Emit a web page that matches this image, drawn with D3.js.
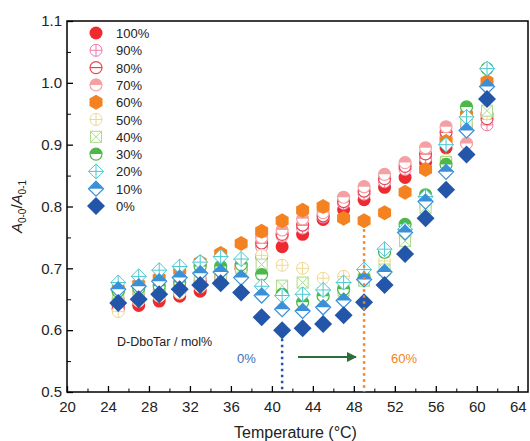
<!DOCTYPE html>
<html lang="en">
<head>
<meta charset="UTF-8">
<title>A0-0/A0-1 vs temperature</title>
<script src="https://cdn.jsdelivr.net/npm/d3@7"></script>
<style>
    body { margin: 0; background: white; }
    svg { font-family: "Liberation Sans", Arial, sans-serif; }
    .axis path, .axis line { stroke: black; }
    .axis text { font-size: 15px; fill: #222; }
</style>
</head>
<body>
<svg id="chart" width="530" height="441"></svg>
<script>
// temperatures (°C)
var temps = [25, 27, 29, 31, 33, 35, 37, 39, 41, 43, 45, 47, 49, 51, 53, 55, 57, 59, 61];

// A0-0/A0-1 per D-DboTar fraction
var s100 = [0.634, 0.640, 0.647, 0.655, 0.663, 0.680, 0.700, 0.719, 0.735, 0.755, 0.779, 0.795, 0.811, 0.831, 0.847, 0.871, 0.895, 0.948, 0.948];
var s90  = [0.635, 0.648, 0.655, 0.660, 0.676, 0.688, 0.697, 0.735, 0.752, 0.765, 0.783, 0.805, 0.820, 0.840, 0.860, 0.878, 0.912, 0.930, 0.932];
var s80  = [0.640, 0.650, 0.658, 0.663, 0.680, 0.690, 0.700, 0.741, 0.755, 0.770, 0.785, 0.808, 0.825, 0.845, 0.865, 0.885, 0.920, 0.945, 0.942];
var s70  = [0.650, 0.660, 0.665, 0.670, 0.685, 0.697, 0.705, 0.750, 0.762, 0.780, 0.790, 0.815, 0.832, 0.852, 0.871, 0.895, 0.929, 0.902, 0.950];
var s60  = [0.666, 0.674, 0.684, 0.697, 0.710, 0.724, 0.740, 0.760, 0.777, 0.794, 0.800, 0.781, 0.777, 0.790, 0.823, 0.860, 0.905, 0.948, 1.002];
var s50  = [0.630, 0.647, 0.655, 0.660, 0.670, 0.690, 0.700, 0.721, 0.705, 0.700, 0.684, 0.687, 0.690, 0.712, 0.752, 0.800, 0.875, 0.935, 0.950];
var s40  = [0.660, 0.667, 0.673, 0.680, 0.685, 0.690, 0.700, 0.706, 0.672, 0.677, 0.660, 0.664, 0.680, 0.698, 0.744, 0.798, 0.872, 0.932, 0.955];
var s30  = [0.663, 0.668, 0.671, 0.677, 0.703, 0.703, 0.706, 0.690, 0.658, 0.645, 0.655, 0.666, 0.685, 0.726, 0.771, 0.819, 0.868, 0.961, 1.023];
var s20  = [0.677, 0.687, 0.697, 0.703, 0.710, 0.719, 0.715, 0.671, 0.656, 0.658, 0.665, 0.677, 0.698, 0.731, 0.763, 0.816, 0.900, 0.945, 1.023];
var s10  = [0.666, 0.671, 0.679, 0.685, 0.692, 0.694, 0.685, 0.656, 0.634, 0.631, 0.637, 0.648, 0.682, 0.694, 0.758, 0.808, 0.856, 0.923, 0.994];
var s0   = [0.644, 0.650, 0.658, 0.666, 0.673, 0.676, 0.661, 0.621, 0.600, 0.603, 0.610, 0.624, 0.645, 0.673, 0.723, 0.781, 0.827, 0.884, 0.974];

var labels = ["100%", "90%", "80%", "70%", "60%", "50%", "40%", "30%", "20%", "10%", "0%"];
var values = [s100, s90, s80, s70, s60, s50, s40, s30, s20, s10, s0];
var colors = ["#ee2a2f", "#f07aa8", "#e8474f", "#f4a0a4", "#f58220", "#f0d890",
              "#a8dc88", "#4cb848", "#4cc8d0", "#3a90d8", "#2356a8"];
var shapes = ["dot", "circleCross", "circleLine", "circleHalf", "hexagon", "circleCross",
              "squareX", "circleHalf", "diamondCross", "diamondHalf", "diamond"];

var xTicks = [20, 24, 28, 32, 36, 40, 44, 48, 52, 56, 60, 64];
var yTicks = [0.5, 0.6, 0.7, 0.8, 0.9, 1.0, 1.1];

var svg = d3.select("#chart");
var plotL = 67, plotR = 528, plotT = 21, plotB = 392;

var x = d3.scaleLinear().domain([20, 65]).range([plotL, plotR]);
var y = d3.scaleLinear().domain([0.5, 1.1]).range([plotB, plotT]);

// frame
svg.append("rect")
    .attr("x", plotL).attr("y", plotT)
    .attr("width", plotR - plotL).attr("height", plotB - plotT)
    .attr("fill", "none").attr("stroke", "black").attr("stroke-width", 1.5);

// axes, ticks pointing inward
var xMinor = d3.range(22, 65, 4);
svg.append("g").attr("class", "axis")
    .attr("transform", "translate(0," + plotB + ")")
    .call(d3.axisBottom(x).tickValues(xMinor).tickSize(-3.5).tickFormat(""))
    .call(function(g) { g.select(".domain").remove(); });
svg.append("g").attr("class", "axis")
    .attr("transform", "translate(0," + plotB + ")")
    .call(d3.axisBottom(x).tickValues(xTicks).tickSize(-6).tickPadding(9).tickFormat(d3.format("d")))
    .call(function(g) { g.select(".domain").remove(); g.selectAll("line").attr("stroke-width", 1.3); });

var yMinor = [0.55, 0.65, 0.75, 0.85, 0.95, 1.05];
svg.append("g").attr("class", "axis")
    .attr("transform", "translate(" + plotL + ",0)")
    .call(d3.axisLeft(y).tickValues(yMinor).tickSize(-4).tickFormat(""))
    .call(function(g) { g.select(".domain").remove(); });
svg.append("g").attr("class", "axis")
    .attr("transform", "translate(" + plotL + ",0)")
    .call(d3.axisLeft(y).tickValues(yTicks).tickSize(-6).tickPadding(5).tickFormat(d3.format(".1f")))
    .call(function(g) { g.select(".domain").remove(); g.selectAll("line").attr("stroke-width", 1.3); });

// axis titles
svg.append("text")
    .attr("x", (plotL + plotR) / 2 - 2).attr("y", 438)
    .attr("text-anchor", "middle").attr("font-size", 16).attr("fill", "#222")
    .text("Temperature (°C)");

var yt = svg.append("text")
    .attr("transform", "translate(22," + ((plotT + plotB) / 2) + ") rotate(-90)")
    .attr("text-anchor", "middle").attr("font-size", 15).attr("fill", "#222");
yt.append("tspan").attr("font-style", "italic").text("A");
yt.append("tspan").attr("font-size", 10).attr("dy", 4).text("0-0");
yt.append("tspan").attr("dy", -4).text("/");
yt.append("tspan").attr("font-style", "italic").text("A");
yt.append("tspan").attr("font-size", 10).attr("dy", 4).text("0-1");

// marker drawing
function drawMarker(g, shape, color) {
    var r = 6;
    if (shape === "dot") {
        g.append("circle").attr("r", 6.5).attr("fill", color);
    } else if (shape === "circleCross") {
        g.append("circle").attr("r", r).attr("fill", "white").attr("stroke", color).attr("stroke-width", 1);
        g.append("path").attr("d", "M" + (-r) + ",0H" + r + "M0," + (-r) + "V" + r)
            .attr("stroke", color).attr("stroke-width", 1);
    } else if (shape === "circleLine") {
        g.append("circle").attr("r", r).attr("fill", "white").attr("stroke", color).attr("stroke-width", 1.2);
        g.append("path").attr("d", "M" + (-r) + ",0H" + r).attr("stroke", color).attr("stroke-width", 1.2);
    } else if (shape === "circleHalf") {
        g.append("circle").attr("r", r).attr("fill", "white").attr("stroke", color).attr("stroke-width", 1.2);
        g.append("path").attr("d", "M" + (-r) + ",0A" + r + "," + r + " 0 0,1 " + r + ",0Z").attr("fill", color);
    } else if (shape === "hexagon") {
        var pts = d3.range(6).map(function(i) {
            var a = Math.PI / 6 + i * Math.PI / 3;
            return [7.5 * Math.cos(a), 7.5 * Math.sin(a)];
        });
        g.append("path").attr("d", "M" + pts.join("L") + "Z").attr("fill", color);
    } else if (shape === "squareX") {
        g.append("rect").attr("x", -5.5).attr("y", -5.5).attr("width", 11).attr("height", 11)
            .attr("fill", "white").attr("stroke", color).attr("stroke-width", 1);
        g.append("path").attr("d", "M-5.5,-5.5L5.5,5.5M5.5,-5.5L-5.5,5.5").attr("stroke", color).attr("stroke-width", 1);
    } else if (shape === "diamondCross") {
        g.append("path").attr("d", "M0,-7.5L7.5,0L0,7.5L-7.5,0Z").attr("fill", "white").attr("stroke", color).attr("stroke-width", 1);
        g.append("path").attr("d", "M-7.5,0H7.5M0,-7.5V7.5").attr("stroke", color).attr("stroke-width", 1);
    } else if (shape === "diamondHalf") {
        g.append("path").attr("d", "M0,-7.5L7.5,0L0,7.5L-7.5,0Z").attr("fill", "white").attr("stroke", color).attr("stroke-width", 1.2);
        g.append("path").attr("d", "M-7.5,0L0,-7.5L7.5,0Z").attr("fill", color);
    } else if (shape === "diamond") {
        g.append("path").attr("d", "M0,-9L9,0L0,9L-9,0Z").attr("fill", color);
    }
}

// data points
values.forEach(function(vals, k) {
    var grp = svg.append("g").attr("class", "series");
    grp.selectAll("g")
        .data(vals)
        .enter()
        .append("g")
        .attr("transform", function(d, i) { return "translate(" + x(temps[i]) + "," + y(d) + ")"; })
        .each(function() { drawMarker(d3.select(this), shapes[k], colors[k]); });
});

// legend
var legend = svg.append("g");
labels.forEach(function(lab, k) {
    var row = legend.append("g").attr("transform", "translate(96," + (33 + k * 17.3) + ")");
    drawMarker(row, shapes[k], colors[k]);
    row.append("text").attr("x", 20).attr("y", 5).attr("font-size", 13).attr("fill", "#222").text(lab);
});

// annotations
svg.append("line")
    .attr("x1", x(41)).attr("x2", x(41)).attr("y1", y(0.596)).attr("y2", plotB)
    .attr("stroke", "#2356a8").attr("stroke-width", 2.5).attr("stroke-dasharray", "2.5,3.5");
svg.append("line")
    .attr("x1", x(49)).attr("x2", x(49)).attr("y1", y(0.773)).attr("y2", plotB)
    .attr("stroke", "#f58220").attr("stroke-width", 2.5).attr("stroke-dasharray", "2.5,3.5");

svg.append("text").attr("x", 117).attr("y", 346).attr("font-size", 12.5).attr("fill", "#222")
    .text("D-DboTar / mol%");
svg.append("text").attr("x", 237).attr("y", 363).attr("font-size", 13).attr("fill", "#3a6fb8").text("0%");
svg.append("text").attr("x", 391).attr("y", 363).attr("font-size", 13).attr("fill", "#f58220").text("60%");

svg.append("defs").append("marker")
    .attr("id", "arrow").attr("viewBox", "0 0 10 10").attr("refX", 9).attr("refY", 5)
    .attr("markerWidth", 5).attr("markerHeight", 5).attr("orient", "auto")
    .append("path").attr("d", "M0,0L10,5L0,10Z").attr("fill", "#2e6e3a");
svg.append("line")
    .attr("x1", 298).attr("x2", 356).attr("y1", 357).attr("y2", 357)
    .attr("stroke", "#2e6e3a").attr("stroke-width", 2).attr("marker-end", "url(#arrow)");
</script>
</body>
</html>
